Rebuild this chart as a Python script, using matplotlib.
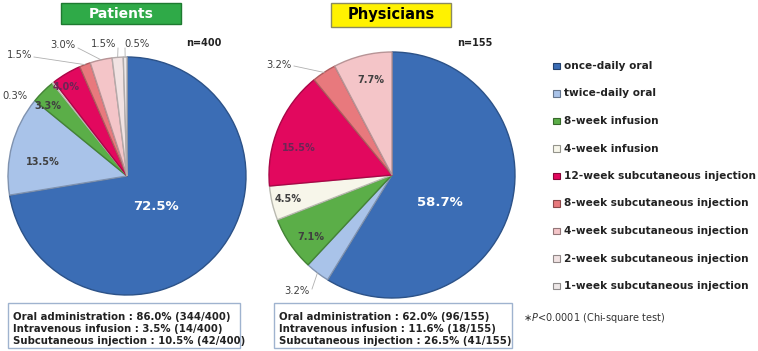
import numpy as np
import matplotlib.pyplot as plt
from matplotlib.patches import Rectangle
from matplotlib.colors import to_rgb

W, H = 758, 351

categories = ["once-daily oral", "twice-daily oral", "8-week infusion", "4-week infusion",
              "12-week subcutaneous injection", "8-week subcutaneous injection",
              "4-week subcutaneous injection", "2-week subcutaneous injection",
              "1-week subcutaneous injection"]
patients_pct = [72.5, 13.5, 3.3, 0.3, 4.0, 1.5, 3.0, 1.5, 0.5]
physicians_pct = [58.7, 3.2, 7.1, 4.5, 15.5, 3.2, 7.7, 0.0, 0.0]
patients_n = 400
physicians_n = 155
summary_labels = ["Oral administration", "Intravenous infusion", "Subcutaneous injection"]
patients_summary_pct = [86.0, 3.5, 10.5]
patients_summary_cnt = [344, 14, 42]
physicians_summary_pct = [62.0, 11.6, 26.5]
physicians_summary_cnt = [96, 18, 41]

colors = ['#3B6DB5', '#A9C3E9', '#5BAE48', '#F7F6EA', '#E2085E', '#E8797D',
          '#F4C5C8', '#F1E2E2', '#EDE7E7']


def darker(c, f=0.7):
    r, g, b = to_rgb(c)
    return (r * f, g * f, b * f)


def Y(y):
    return H - y


fig = plt.figure(figsize=(W / 100, H / 100), dpi=100)
ax = fig.add_axes([0, 0, 1, 1])

# label layout (pixel positions) : index -> (x, y, kind, leader start)
patients_layout = {
    0: (156, 206, 'big', None),
    1: (43, 162, 'in', None),
    2: (48, 106, 'in', None),
    3: (15, 96, 'out', None),
    4: (66, 87, 'dark', None),
    5: (20, 55, 'out', (34, 57)),
    6: (63, 45, 'out', (78, 48)),
    7: (104, 44, 'out', (118, 48)),
    8: (137, 44, 'out', (125, 48)),
}
physicians_layout = {
    0: (440, 203, 'big', None),
    1: (297, 291, 'out', (312, 289)),
    2: (311, 237, 'in', None),
    3: (288, 199, 'in', None),
    4: (299, 148, 'dark', None),
    5: (279, 65, 'out', (294, 66)),
    6: (371, 80, 'in', None),
}


def draw_pie(values, center, radius, layout):
    idx = [i for i, v in enumerate(values) if v > 0]
    vals = [values[i] for i in idx]
    cols = [colors[i] for i in idx]
    wedges, _ = ax.pie(vals, colors=cols, startangle=90, counterclock=False,
                       center=(center[0], Y(center[1])), radius=radius,
                       wedgeprops=dict(linewidth=1.0))
    for w, i in zip(wedges, idx):
        w.set_edgecolor(darker(colors[i], 0.75))
        x, y, kind, lead = layout[i]
        txt = f"{values[i]:.1f}%"
        if kind == 'big':
            ax.text(x, Y(y), txt, color='white', fontsize=9.5, fontweight='bold',
                    ha='center', va='center')
        elif kind == 'in':
            ax.text(x, Y(y), txt, color='#404040', fontsize=7, fontweight='bold',
                    ha='center', va='center')
        elif kind == 'dark':
            ax.text(x, Y(y), txt, color='#6B2655', fontsize=7, fontweight='bold',
                    ha='center', va='center')
        else:
            ax.text(x, Y(y), txt, color='#404040', fontsize=7.2,
                    ha='center', va='center')
            if lead is not None:
                ang = np.deg2rad((w.theta1 + w.theta2) / 2)
                ex = center[0] + radius * np.cos(ang)
                ey = Y(center[1]) + radius * np.sin(ang)
                ax.plot([lead[0], ex], [Y(lead[1]), ey], color='#B0B0B0', lw=0.6)


draw_pie(patients_pct, (127, 176), 119, patients_layout)
draw_pie(physicians_pct, (392, 175), 123, physicians_layout)

# titles
ax.add_patch(Rectangle((61, Y(24)), 120, 21, facecolor='#2FAA48', edgecolor='#1E7A30', lw=1))
ax.text(121, Y(13.5), "Patients", color='white', fontsize=10, fontweight='bold',
        ha='center', va='center')
ax.add_patch(Rectangle((331, Y(27)), 120, 24, facecolor='#FFF200', edgecolor='#8A8A60', lw=1))
ax.text(391, Y(15), "Physicians", color='black', fontsize=10.5, fontweight='bold',
        ha='center', va='center')

ax.text(204, Y(43), f"n={patients_n}", fontsize=7, fontweight='bold', color='#222222',
        ha='center', va='center')
ax.text(475, Y(43), f"n={physicians_n}", fontsize=7, fontweight='bold', color='#222222',
        ha='center', va='center')

# legend
for k, (lab, c) in enumerate(zip(categories, colors)):
    yy = 66 + k * 27.5
    ax.add_patch(Rectangle((553, Y(yy) - 3), 6.5, 6.5, facecolor=c,
                           edgecolor=darker(c, 0.6), lw=0.8))
    ax.text(563.5, Y(yy), lab, fontsize=7.55, fontweight='bold', color='#222222',
            ha='left', va='center')

# summary boxes
for x0, x1, pcts, cnts, n in [(8, 240, patients_summary_pct, patients_summary_cnt, patients_n),
                              (274, 512, physicians_summary_pct, physicians_summary_cnt, physicians_n)]:
    ax.add_patch(Rectangle((x0, Y(348)), x1 - x0, 45, facecolor='white',
                           edgecolor='#9FB3CF', lw=1))
    for k, (lab, p, c) in enumerate(zip(summary_labels, pcts, cnts)):
        ax.text(x0 + 5, Y(316.5 + k * 12.5), f"{lab} : {p:.1f}% ({c}/{n})",
                fontsize=7.3, fontweight='bold', color='#222222', ha='left', va='center')

ax.text(523, Y(318), r"$\ast\mathit{P}$<0.0001 (Chi-square test)", fontsize=7,
        color='#333333', ha='left', va='center')

ax.set_xlim(0, W)
ax.set_ylim(0, H)
ax.set_aspect('auto')
ax.axis('off')

fig.savefig("out.png", dpi=100)
